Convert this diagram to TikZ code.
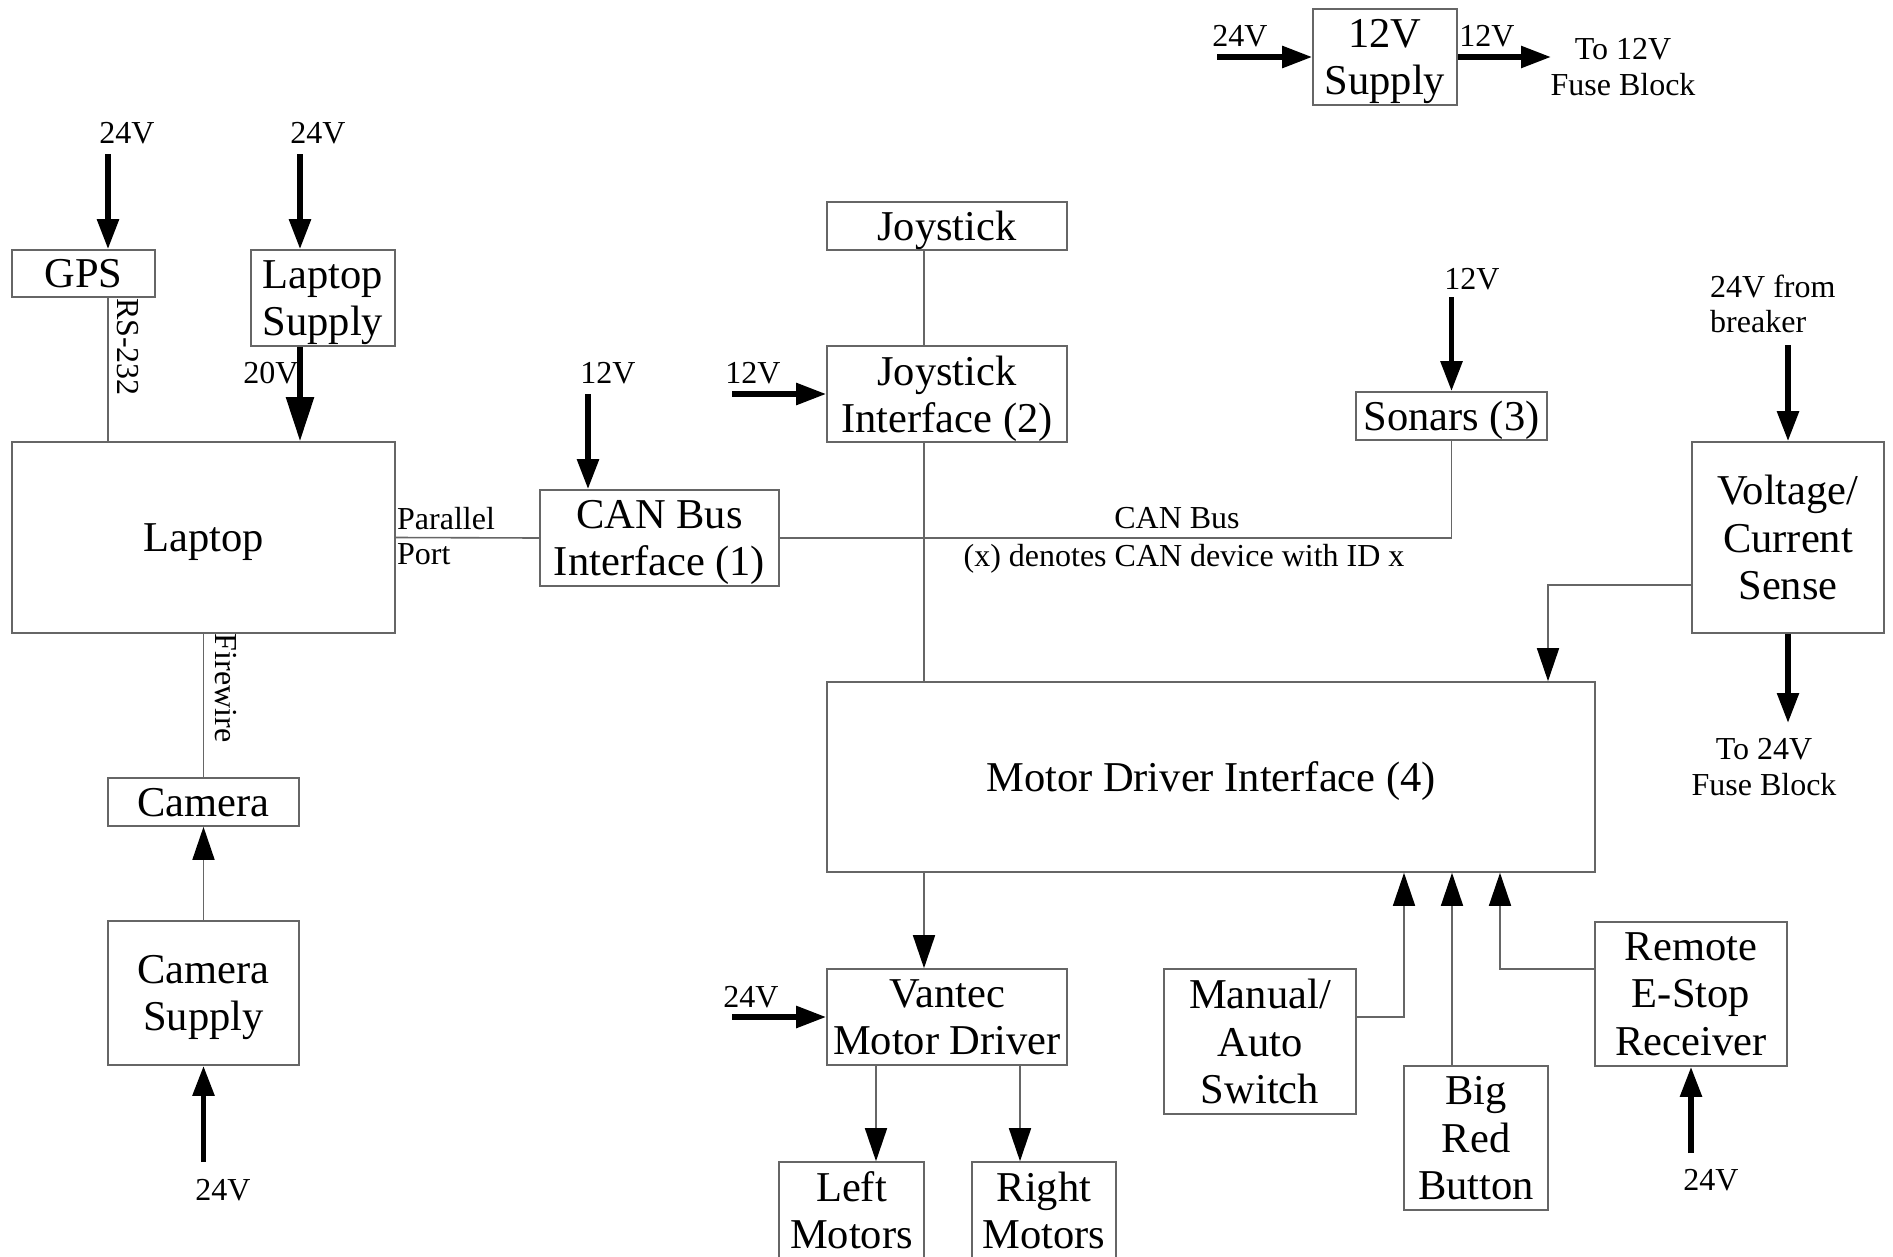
\documentclass[tikz,border=0pt]{standalone}
\usepackage{fontspec}
\setmainfont{Liberation Serif}
\usetikzlibrary{arrows.meta,calc}
\definecolor{edge}{HTML}{666666}
\tikzset{
  box/.style={draw=edge, line width=1.6pt, inner sep=0pt, align=center, text depth=0pt,
    font=\fontsize{42.5}{47.5}\selectfont},
  lbl/.style={inner sep=0pt, align=center, font=\fontsize{32}{35.5}\selectfont},
  conn/.style={draw=edge, line width=1.6pt},
  carrow/.style={conn, -{Triangle[length=33pt,width=22pt,color=black]}},
  parrow/.style={draw=black, line width=5.5pt, -{Triangle[length=30pt,width=21pt]}},
  bigarrow/.style={draw=black, line width=5.5pt, -{Triangle[length=44pt,width=27pt]}}
}
\begin{document}
\begin{tikzpicture}[x=1pt,y=-1pt]
\useasboundingbox (0,0) rectangle (1893,1256);
% boxes
\node[box, minimum width=143pt, minimum height=47pt] (gps) at (83.5,273.5) {GPS};
\node[box, minimum width=144pt, minimum height=96pt] (lsup) at (323,298) {Laptop\\Supply};
\node[box, minimum width=383pt, minimum height=191pt] (laptop) at (203.5,537.5) {Laptop};
\node[box, minimum width=191pt, minimum height=48pt] (camera) at (203.5,802) {Camera};
\node[box, minimum width=191pt, minimum height=144pt] (camsup) at (203.5,993) {Camera\\Supply};
\node[box, minimum width=239pt, minimum height=96pt] (can) at (659.5,538) {CAN Bus\\Interface (1)};
\node[box, minimum width=240pt, minimum height=48pt] (joy) at (947,226) {Joystick};
\node[box, minimum width=240pt, minimum height=96pt] (joyif) at (947,394) {Joystick\\Interface (2)};
\node[box, minimum width=191pt, minimum height=48pt] (sonar) at (1451.5,416) {Sonars (3)};
\node[box, minimum width=192pt, minimum height=191pt] (vcs) at (1788,537.5) {Voltage/\\Current\\Sense};
\node[box, minimum width=768pt, minimum height=190pt] (mdi) at (1211,777) {Motor Driver Interface (4)};
\node[box, minimum width=240pt, minimum height=96pt] (vantec) at (947,1017) {Vantec\\Motor Driver};
\node[box, minimum width=145pt, minimum height=96pt] (lmot) at (851.5,1210) {Left\\Motors};
\node[box, minimum width=144pt, minimum height=96pt] (rmot) at (1044,1210) {Right\\Motors};
\node[box, minimum width=192pt, minimum height=145pt] (manual) at (1260,1041.5) {Manual/\\Auto\\Switch};
\node[box, minimum width=144pt, minimum height=144pt] (brb) at (1476,1138) {Big\\Red\\Button};
\node[box, minimum width=192pt, minimum height=144pt] (remote) at (1691,994) {Remote\\E-Stop\\Receiver};
\node[box, minimum width=144pt, minimum height=96pt] (sup) at (1385,57) {12V\\Supply};
% labels
\node[lbl] (l24gps) at (127,133) {24V};
\node[lbl] (l24ls) at (318,133) {24V};
\node[lbl] (l20) at (271,373) {20V};
\node[lbl] (l12can) at (608,373) {12V};
\node[lbl] (l12joy) at (753,373) {12V};
\node[lbl] (l12son) at (1472,279) {12V};
\node[lbl] (l24van) at (751,997) {24V};
\node[lbl] (l24cam) at (223,1190) {24V};
\node[lbl] (l24rem) at (1711,1180) {24V};
\node[lbl] (l24sup) at (1240,36) {24V};
\node[lbl] (l12sup) at (1487,36) {12V};
\node[lbl] (to12) at (1623,67) {To 12V\\Fuse Block};
\node[lbl] (to24) at (1764,767) {To 24V\\Fuse Block};
\node[lbl, anchor=west, align=left] (brk) at (1710,304) {24V from\\breaker};
\node[lbl, anchor=west, align=left] (par) at (397,536) {Parallel\\Port};
\node[lbl] (canbus) at (1177,518) {CAN Bus};
\node[lbl] (denote) at (1184,559) {(x) denotes CAN device with ID x};
\node[lbl, rotate=-90] (rs) at (128,347) {RS-232};
\node[lbl, rotate=-90] (fw) at (226,688) {Firewire};
% coordinates
\coordinate (cgps) at (108,154);
\coordinate (cls) at (300,154);
\coordinate (ccan) at (588,394);
\coordinate (cjoy) at (732,394);
\coordinate (cson) at (1451.5,297);
\coordinate (cbrk) at (1788,345);
\coordinate (cto24) at (1788,723);
\coordinate (cvan) at (732,1017);
\coordinate (ccam) at (203.5,1162);
\coordinate (crem) at (1691,1153);
\coordinate (csupin) at (1217,57);
\coordinate (csupout) at (1551,57);
\coordinate (colj) at (924,0);
\coordinate (colv) at (1548,585);
% power arrows
\draw[parrow] (cgps) -- (cgps |- gps.north);
\draw[parrow] (cls) -- (cls |- lsup.north);
\draw[bigarrow] (cls |- lsup.south) -- (cls |- laptop.north);
\draw[parrow] (ccan) -- (ccan |- can.north);
\draw[parrow] (cjoy) -- (joyif.west);
\draw[parrow] (cson) -- (sonar.north);
\draw[parrow] (cbrk) -- (vcs.north);
\draw[parrow] (vcs.south) -- (cto24);
\draw[parrow] (cvan) -- (vantec.west);
\draw[parrow] (ccam) -- (camsup.south);
\draw[parrow] (crem) -- (remote.south);
\draw[parrow] (csupin) -- (sup.west);
\draw[parrow] (sup.east) -- (csupout);
% signal connectors
\draw[conn] (cgps |- gps.south) -- (cgps |- laptop.north);
\draw[conn] (laptop.south) -- (camera.north);
\draw[carrow] (camsup.north) -- (camera.south);
\draw[conn] (laptop.east) -- (can.west);
\draw[conn] (can.east) -| (sonar.south);
\draw[conn] (colj |- joy.south) -- (colj |- joyif.north);
\draw[conn] (colj |- joyif.south) -- (colj |- mdi.north);
\draw[carrow] (vcs.west |- colv) -| (colv |- mdi.north);
\draw[carrow] (colj |- mdi.south) -- (colj |- vantec.north);
\draw[carrow] (876,1066) coordinate (vl) -- (vl |- lmot.north);
\draw[carrow] (1020,1066) coordinate (vr) -- (vr |- rmot.north);
\coordinate (cm) at (1404,1017);
\coordinate (cb) at (1452,0);
\coordinate (cr) at (1500,969);
\draw[carrow] (manual.east |- cm) -| (cm |- mdi.south);
\draw[carrow] (cb |- brb.north) -- (cb |- mdi.south);
\draw[carrow] (remote.west |- cr) -| (cr |- mdi.south);
\end{tikzpicture}
\end{document}
